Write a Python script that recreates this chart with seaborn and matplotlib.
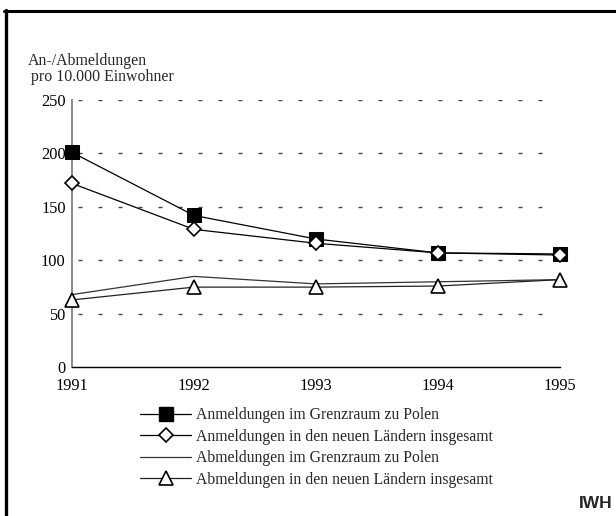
import matplotlib
matplotlib.use("Agg")
import matplotlib.pyplot as plt
from matplotlib.lines import Line2D
import seaborn as sns
import pandas as pd

years = [1991, 1992, 1993, 1994, 1995]
anm_grenz = [201, 142, 120, 107, 106]
anm_neu = [172, 129, 116, 107, 105]
abm_grenz = [68, 85, 78, 80, 82]
abm_neu = [63, 75, 75, 76, 82]
labels = ["Anmeldungen im Grenzraum zu Polen",
          "Anmeldungen in den neuen Ländern insgesamt",
          "Abmeldungen im Grenzraum zu Polen",
          "Abmeldungen in den neuen Ländern insgesamt"]
yticks = [0, 50, 100, 150, 200, 250]

sns.set_style("white")
plt.rcParams['font.family'] = ['Liberation Serif', 'DejaVu Serif']

fig = plt.figure(figsize=(6.16, 5.16), dpi=100)
ax = fig.add_axes([72/616, 1-367.3/516, (560-72)/616, (367.3-100)/516])

styles = [
    dict(color="black", marker="s", markersize=10, markerfacecolor="black", markeredgecolor="black"),
    dict(color="black", marker="D", markersize=7.5, markerfacecolor="white", markeredgecolor="black", markeredgewidth=1.2),
    dict(color="#333333", marker=None),
    dict(color="#222222", marker="^", markersize=10.5, markerfacecolor="white", markeredgecolor="black", markeredgewidth=1.2),
]
series = [anm_grenz, anm_neu, abm_grenz, abm_neu]
handles = []
for vals, st, lab in zip(series, styles, labels):
    df = pd.DataFrame({"Jahr": years, "Wert": vals})
    st = dict(st)
    col = st.pop("color")
    sns.lineplot(data=df, x="Jahr", y="Wert", ax=ax, color=col, linewidth=0.9,
                 clip_on=False, zorder=3, **st)
    handles.append(Line2D([], [], color=col, linewidth=0.9, **st))

ax.set_xlim(1991, 1995)
ax.set_ylim(0, 250)
ax.set_xticks(years)
ax.set_xticklabels([str(y) for y in years])
ax.set_yticks(yticks)
ax.set_yticklabels([str(v) for v in yticks])
ax.set_xlabel("")
ax.set_ylabel("")
for v in yticks[1:]:
    ax.hlines(v, 1991.05, 1994.885, colors="#444444", linewidth=1.0,
              linestyles=(0, (2.9, 11.5)), zorder=1)
for s in ["top", "right"]:
    ax.spines[s].set_visible(False)
ax.spines["left"].set_color("#808080")
ax.spines["left"].set_linewidth(1.3)
ax.spines["bottom"].set_color("black")
ax.spines["bottom"].set_linewidth(1.0)
ax.tick_params(axis="both", direction="inout", length=6, width=0.9, labelsize=11.8, colors="black")
ax.tick_params(axis="x", pad=4.5)
ax.tick_params(axis="y", pad=1.5)

fig.text(28/616, 1-61/516, "An-/Abmeldungen", fontsize=11.4, va="center", ha="left")
fig.text(31/616, 1-77/516, "pro 10.000 Einwohner", fontsize=11.4, va="center", ha="left")

fig.legend(handles, labels, loc="upper left", bbox_to_anchor=(140/616, 1-407/516),
           frameon=False, fontsize=11.3, handlelength=3.25, handletextpad=0.3,
           labelspacing=0.36, borderaxespad=0, borderpad=0)

fig.text(612/616, 1-503/516, "IWH", fontsize=12.5, fontweight="bold",
         family=["Liberation Sans", "DejaVu Sans"], ha="right", va="center")

fig.add_artist(Line2D([5.5/616, 5.5/616], [0, 1-10/516], transform=fig.transFigure, color="black", linewidth=2.4))
fig.add_artist(Line2D([4/616, 1], [1-11.3/516, 1-11.3/516], transform=fig.transFigure, color="black", linewidth=2.2))

fig.savefig("out.png", dpi=100)
